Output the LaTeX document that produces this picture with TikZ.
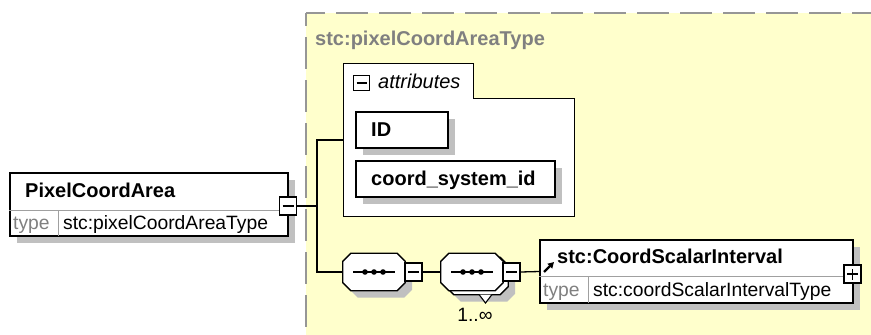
\documentclass[tikz,border=0pt]{standalone}
\usepackage{fontspec}
\setmainfont{Liberation Sans}
\usetikzlibrary{shadows,arrows.meta}
\definecolor{bgyellow}{RGB}{255,255,204}
\definecolor{shadowgray}{RGB}{192,192,192}
\definecolor{dashgray}{RGB}{150,150,150}
\definecolor{titlegray}{RGB}{128,128,128}
\definecolor{divgray}{RGB}{160,160,160}
\begin{document}
\begin{tikzpicture}[x=1pt,y=-1pt,
  shad/.style={drop shadow={shadow xshift=7pt,shadow yshift=-7pt,fill=shadowgray,opacity=1}},
  box/.style={draw=black,line width=1.3pt,fill=white,inner sep=0pt,shad},
  plainbox/.style={draw=black,line width=1.3pt,fill=white,inner sep=0pt},
  area/.style={inner sep=0pt},
  btn/.style={draw=black,line width=1.3pt,fill=white,inner sep=0pt,minimum width=17pt,minimum height=18pt},
  conn/.style={draw=black,line width=1.3pt},
  divline/.style={draw=divgray,line width=1pt},
  bordash/.style={draw=dashgray,line width=1.4pt,dash pattern=on 32pt off 11pt},
  bname/.style={anchor=base west,inner sep=0pt,font=\fontsize{20pt}{24pt}\selectfont\bfseries},
  tname/.style={anchor=base west,inner sep=0pt,font=\fontsize{20pt}{24pt}\selectfont\bfseries,text=titlegray},
  rtext/.style={anchor=base west,inner sep=0pt,font=\fontsize{19.3pt}{23pt}\selectfont},
  gtext/.style={anchor=base west,inner sep=0pt,font=\fontsize{19.3pt}{23pt}\selectfont,text=titlegray},
  itext/.style={anchor=base west,inner sep=0pt,font=\fontsize{20pt}{24pt}\selectfont\itshape},
  chamf/.style={insert path={([xshift=8pt]#1.north west) -- ([xshift=-8pt]#1.north east) -- ([yshift=-8pt]#1.north east) -- ([yshift=8pt]#1.south east) -- ([xshift=-8pt]#1.south east) -- ([xshift=8pt]#1.south west) -- ([yshift=8pt]#1.south west) -- ([yshift=-8pt]#1.north west) -- cycle}},
  compo/.style={draw=black,line width=1.3pt,fill=white}
]
\useasboundingbox (0,0) rectangle (871,335);
\clip (0,0) rectangle (871,335);

% complex type area
\fill[bgyellow] (306,13) rectangle (880,345);
\draw[bordash,dash phase=13pt] (306,13) -- (880,13);
\draw[bordash,dash phase=19pt] (306,13) -- (306,345);
\node[tname] (title) at (315,45) {stc:pixelCoordAreaType};

% PixelCoordArea element
\node[box,minimum width=278pt,minimum height=63pt] (pca) at (149,204.5) {};
\draw[divline] (pca.west |- 0,210) -- (pca.east |- 0,210);
\draw[divline] (58,210) -- (58,236);
\node[bname] (pcaname) at (25,197.5) {PixelCoordArea};
\node[gtext] (pcatype) at (13,229) {type};
\node[rtext] (pcatval) at (63,229) {stc:pixelCoordAreaType};
\node[btn] (pcab) at (288,206) {};
\draw[line width=1.3pt] ([xshift=-5.5pt]pcab.center) -- ([xshift=5.5pt]pcab.center);

% attributes group
\node[area,minimum width=230pt,minimum height=152pt] (attr) at (459,140) {};
\draw[line width=1.3pt,fill=white] (attr.north west) -- ([xshift=130pt]attr.north west) -- ([xshift=130pt,yshift=-35pt]attr.north west) -- ([yshift=-35pt]attr.north east) -- (attr.south east) -- (attr.south west) -- cycle;
\node[plainbox,minimum width=16pt,minimum height=15pt] (attrbtn) at (361.5,83) {};
\draw[line width=1.3pt] ([xshift=-5pt]attrbtn.center) -- ([xshift=5pt]attrbtn.center);
\node[itext] (attrlbl) at (378,88) {attributes};
\node[box,minimum width=92pt,minimum height=36pt] (idb) at (402,130) {};
\node[bname] (idtxt) at (371,136.5) {ID};
\node[box,minimum width=199pt,minimum height=36pt] (csid) at (455.5,179) {};
\node[bname] (csidtxt) at (371,185) {coord\_system\_id};

% first sequence compositor
\node[area,minimum width=62pt,minimum height=37pt] (c1) at (374,272) {};
\path[compo,shad,chamf=c1];
\draw[line width=1.3pt] ([xshift=-21pt]c1.center) -- ([xshift=21pt]c1.center);
\fill ([xshift=-9pt]c1.center) circle (2.8pt);
\fill (c1.center) circle (2.8pt);
\fill ([xshift=9pt]c1.center) circle (2.8pt);
\node[btn] (c1b) at (413.5,272) {};
\draw[line width=1.3pt] ([xshift=-5.5pt]c1b.center) -- ([xshift=5.5pt]c1b.center);

% second sequence compositor (1..inf)
\node[area,minimum width=62pt,minimum height=37pt] (c2s) at (477,276) {};
\path[compo,shad,chamf=c2s];
\node[area,minimum width=62pt,minimum height=37pt] (c2) at (472,272) {};
\path[compo,chamf=c2];
\draw[line width=1.3pt] ([xshift=-21pt]c2.center) -- ([xshift=21pt]c2.center);
\fill ([xshift=-9pt]c2.center) circle (2.8pt);
\fill (c2.center) circle (2.8pt);
\fill ([xshift=9pt]c2.center) circle (2.8pt);
\draw[line width=1.1pt,fill=white] (479,294.5) -- (485.5,303) -- (492,294.5);
\node[btn] (c2b) at (511.5,272) {};
\draw[line width=1.3pt] ([xshift=-5.5pt]c2b.center) -- ([xshift=5.5pt]c2b.center);
\node[anchor=base,inner sep=0pt,font=\fontsize{19.3pt}{23pt}\selectfont] (mult) at (475,321.5) {1..∞};

% stc:CoordScalarInterval element
\node[box,minimum width=313pt,minimum height=63pt] (csi) at (696.5,271.5) {};
\draw[divline] (csi.west |- 0,276) -- (csi.east |- 0,276);
\draw[divline] (588,276) -- (588,303);
\draw[line width=2.2pt,-{Triangle[length=6pt,width=6.5pt]}] (544,272) -- (554,262);
\node[bname] (csiname) at (557,263) {stc:CoordScalarInterval};
\node[gtext] (csitype) at (543,296) {type};
\node[rtext] (csitval) at (593,296) {stc:coordScalarIntervalType};
\node[btn] (csib) at (852.5,274) {};
\draw[line width=1.3pt] ([xshift=-5.5pt]csib.center) -- ([xshift=5.5pt]csib.center);
\draw[line width=1.3pt] ([yshift=-5.5pt]csib.center) -- ([yshift=5.5pt]csib.center);

% connectors
\coordinate (j) at (317,206);
\draw[conn] (pcab.east) -- (j);
\draw[conn] (attr.west) -| (j) |- (c1.west);
\draw[conn] (c1b.east) -- (c2.west);
\draw[conn] (c2b.east) -- (csi.west);
\end{tikzpicture}
\end{document}
